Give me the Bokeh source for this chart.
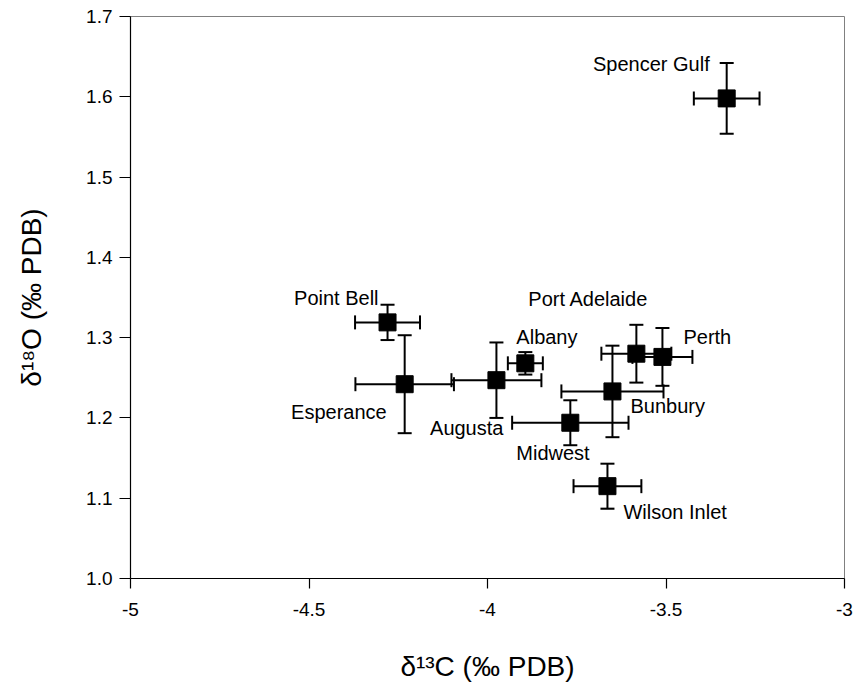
from bokeh.plotting import figure
from bokeh.models import ColumnDataSource, Range1d, FixedTicker, Whisker, TeeHead
from bokeh.core.properties import value
from bokeh.embed import file_html
from bokeh.resources import INLINE

# ---- data ----
sites = ["Spencer Gulf", "Point Bell", "Esperance", "Augusta", "Albany",
         "Port Adelaide", "Perth", "Bunbury", "Midwest", "Wilson Inlet"]
d13C = [-3.33, -4.28, -4.232, -3.975, -3.894, -3.583, -3.51, -3.65, -3.768, -3.664]
d18O = [1.598, 1.319, 1.242, 1.247, 1.268, 1.280, 1.276, 1.233, 1.194, 1.115]
d13C_err = [0.092, 0.091, 0.138, 0.126, 0.049, 0.098, 0.084, 0.143, 0.163, 0.095]
d18O_err = [0.044, 0.022, 0.061, 0.047, 0.014, 0.036, 0.036, 0.057, 0.028, 0.028]

x_ticks = [-5, -4.5, -4, -3.5, -3]
x_tick_labels = ["-5", "-4.5", "-4", "-3.5", "-3"]
y_ticks = [1.0, 1.1, 1.2, 1.3, 1.4, 1.5, 1.6, 1.7]
y_tick_labels = ["1.0", "1.1", "1.2", "1.3", "1.4", "1.5", "1.6", "1.7"]

# label placement (screen-pixel offsets from each point) - styling only
label_dx = [-17, -9, -18, 7, -9, -48, 21, 18, -54, 16]
label_dy = [-34, -24, 28, 48, -26, -55, -20, 15, 30, 26]
label_align = ["right", "right", "right", "right", "left", "center",
               "left", "left", "left", "left"]

FONT = "Liberation Sans"

src = ColumnDataSource(dict(
    x=d13C, y=d18O,
    xlo=[a - e for a, e in zip(d13C, d13C_err)],
    xhi=[a + e for a, e in zip(d13C, d13C_err)],
    ylo=[a - e for a, e in zip(d18O, d18O_err)],
    yhi=[a + e for a, e in zip(d18O, d18O_err)],
    name=sites, dx=label_dx, dy=label_dy, align=label_align,
))

p = figure(width=856, height=692, output_backend="svg", toolbar_location=None,
           x_range=Range1d(-5, -3), y_range=Range1d(1.0, 1.7),
           min_border_left=130, min_border_right=12, min_border_top=16,
           min_border_bottom=114)
p.grid.visible = False
p.outline_line_color = "#808080"
p.outline_line_width = 1
p.background_fill_color = "white"
p.border_fill_color = "white"

# axes
p.xaxis.ticker = FixedTicker(ticks=x_ticks)
p.xaxis.major_label_overrides = {t: l for t, l in zip(x_ticks, x_tick_labels)}
p.yaxis.ticker = FixedTicker(ticks=y_ticks)
p.yaxis.major_label_overrides = {t: l for t, l in zip(y_ticks, y_tick_labels)}
for ax in (p.xaxis[0], p.yaxis[0]):
    ax.axis_line_color = "black"
    ax.axis_line_width = 1.2
    ax.major_tick_line_color = "black"
    ax.major_tick_line_width = 1.2
    ax.major_tick_in = 0
    ax.minor_tick_line_color = None
    ax.major_label_text_font = FONT
    ax.major_label_text_font_size = "19px"
    ax.major_label_text_color = "black"
    ax.axis_label_text_font = FONT
    ax.axis_label_text_font_size = "28px"
    ax.axis_label_text_font_style = "normal"
    ax.axis_label_text_color = "black"
p.xaxis.major_tick_out = 10
p.yaxis.major_tick_out = 11
p.xaxis.major_label_standoff = 14
p.yaxis.major_label_standoff = 7
p.xaxis.axis_label = "δ¹³C (‰ PDB)"
p.yaxis.axis_label = "δ¹⁸O (‰ PDB)"
p.xaxis.axis_label_standoff = 32
p.yaxis.axis_label_standoff = 36

# error bars
for base, lo, hi, dim in (("y", "xlo", "xhi", "width"), ("x", "ylo", "yhi", "height")):
    w = Whisker(source=src, base=base, lower=lo, upper=hi, dimension=dim,
                line_color="black", line_width=2,
                upper_head=TeeHead(size=14, line_width=2, line_color="black"),
                lower_head=TeeHead(size=14, line_width=2, line_color="black"))
    p.add_layout(w)

# points
p.scatter("x", "y", source=src, marker="square", size=17,
          fill_color="black", line_color="black")

# labels
p.text("x", "y", text="name", source=src, x_offset="dx", y_offset="dy",
       text_align="align", text_baseline="middle",
       text_font=value(FONT), text_font_size="20px", text_color="black")

open("out.html", "w").write(file_html(p, INLINE))
